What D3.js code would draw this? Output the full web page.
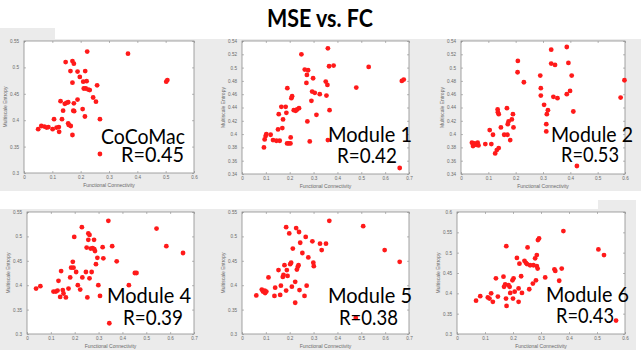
<!DOCTYPE html>
<html>
<head>
<meta charset="utf-8">
<script src="https://cdn.jsdelivr.net/npm/d3@7"></script>
<style>
  body { margin: 0; background: #fff; }
  svg { display: block; }
  .tick text { font-family: "Liberation Sans", Arial, sans-serif; font-size: 4.6px; fill: #6a6a6a; }
  .tick line { stroke: #8a8a8a; stroke-width: 0.6; }
</style>
</head>
<body>
<div id="chart"></div>
<script>
const width = 641
const height = 353

const panelNames = ["CoCoMac", "Module 1", "Module 2", "Module 4", "Module 5", "Module 6"]
const rLabels = ["R=0.45", "R=0.42", "R=0.53", "R=0.39", "R=0.38", "R=0.43"]

const xTicks = [
  [0, 0.1, 0.2, 0.3, 0.4, 0.5, 0.6],
  [0, 0.1, 0.2, 0.3, 0.4, 0.5, 0.6, 0.7],
  [0, 0.1, 0.2, 0.3, 0.4, 0.5, 0.6],
  [0, 0.1, 0.2, 0.3, 0.4, 0.5, 0.6, 0.7],
  [0, 0.1, 0.2, 0.3, 0.4, 0.5, 0.6, 0.7],
  [0, 0.1, 0.2, 0.3, 0.4, 0.5, 0.6]
]
const yTicks = [
  [0.3, 0.35, 0.4, 0.45, 0.5, 0.55],
  [0.34, 0.36, 0.38, 0.4, 0.42, 0.44, 0.46, 0.48, 0.5, 0.52, 0.54],
  [0.34, 0.36, 0.38, 0.4, 0.42, 0.44, 0.46, 0.48, 0.5, 0.52, 0.54],
  [0.3, 0.35, 0.4, 0.45, 0.5, 0.55],
  [0.3, 0.35, 0.4, 0.45, 0.5, 0.55],
  [0.3, 0.35, 0.4, 0.45, 0.5, 0.55, 0.6]
]

// functional connectivity (x) and multiscale entropy (y)
const cocomacFC = [0.05, 0.061, 0.072, 0.086, 0.08, 0.101, 0.106, 0.115, 0.123, 0.124, 0.129, 0.134, 0.138, 0.144, 0.15, 0.156, 0.147, 0.156, 0.158, 0.165, 0.164, 0.171, 0.176, 0.171, 0.171, 0.174, 0.177, 0.176, 0.189, 0.189, 0.197, 0.209, 0.207, 0.211, 0.215, 0.216, 0.221, 0.223, 0.218, 0.227, 0.232, 0.244, 0.254, 0.258, 0.268, 0.268, 0.367, 0.502, 0.506]
const cocomacMSE = [0.383, 0.389, 0.388, 0.387, 0.386, 0.383, 0.402, 0.386, 0.387, 0.378, 0.436, 0.402, 0.418, 0.431, 0.433, 0.434, 0.51, 0.394, 0.391, 0.389, 0.493, 0.512, 0.507, 0.471, 0.372, 0.418, 0.417, 0.432, 0.492, 0.439, 0.482, 0.473, 0.421, 0.46, 0.407, 0.493, 0.474, 0.53, 0.46, 0.458, 0.457, 0.443, 0.435, 0.466, 0.402, 0.336, 0.526, 0.473, 0.476]

const module1FC = [0.092, 0.095, 0.099, 0.102, 0.12, 0.13, 0.144, 0.151, 0.158, 0.154, 0.165, 0.169, 0.172, 0.183, 0.186, 0.189, 0.19, 0.196, 0.203, 0.204, 0.207, 0.21, 0.217, 0.225, 0.231, 0.239, 0.249, 0.263, 0.272, 0.277, 0.27, 0.274, 0.284, 0.291, 0.294, 0.298, 0.305, 0.312, 0.326, 0.351, 0.354, 0.358, 0.36, 0.365, 0.367, 0.36, 0.384, 0.479, 0.531, 0.67, 0.678, 0.661]
const module1MSE = [0.38, 0.392, 0.397, 0.4, 0.399, 0.391, 0.39, 0.407, 0.39, 0.43, 0.441, 0.409, 0.422, 0.441, 0.432, 0.386, 0.469, 0.386, 0.386, 0.395, 0.454, 0.457, 0.436, 0.435, 0.437, 0.439, 0.52, 0.497, 0.489, 0.496, 0.477, 0.419, 0.389, 0.45, 0.464, 0.484, 0.462, 0.429, 0.46, 0.479, 0.458, 0.474, 0.529, 0.502, 0.436, 0.391, 0.503, 0.47, 0.501, 0.48, 0.482, 0.349]

const module2FC = [0.04, 0.044, 0.05, 0.055, 0.061, 0.064, 0.089, 0.105, 0.111, 0.117, 0.125, 0.131, 0.138, 0.134, 0.138, 0.135, 0.146, 0.158, 0.168, 0.17, 0.171, 0.174, 0.18, 0.186, 0.192, 0.19, 0.208, 0.207, 0.23, 0.29, 0.292, 0.292, 0.304, 0.314, 0.318, 0.312, 0.312, 0.33, 0.33, 0.338, 0.344, 0.353, 0.387, 0.393, 0.387, 0.399, 0.405, 0.411, 0.424, 0.584, 0.598]
const module2MSE = [0.387, 0.382, 0.386, 0.384, 0.387, 0.383, 0.385, 0.406, 0.385, 0.399, 0.371, 0.376, 0.379, 0.437, 0.43, 0.433, 0.41, 0.399, 0.439, 0.399, 0.415, 0.419, 0.391, 0.422, 0.41, 0.43, 0.51, 0.493, 0.478, 0.488, 0.469, 0.458, 0.444, 0.43, 0.436, 0.415, 0.404, 0.527, 0.506, 0.456, 0.504, 0.454, 0.531, 0.507, 0.46, 0.465, 0.488, 0.434, 0.352, 0.455, 0.481]

const module4FC = [0.038, 0.056, 0.111, 0.121, 0.128, 0.132, 0.139, 0.143, 0.15, 0.153, 0.163, 0.174, 0.181, 0.185, 0.192, 0.195, 0.198, 0.206, 0.213, 0.223, 0.23, 0.232, 0.247, 0.25, 0.253, 0.257, 0.257, 0.262, 0.262, 0.267, 0.271, 0.275, 0.281, 0.282, 0.285, 0.289, 0.295, 0.299, 0.306, 0.317, 0.32, 0.341, 0.345, 0.357, 0.376, 0.427, 0.452, 0.459, 0.543, 0.584, 0.654]
const module4MSE = [0.393, 0.398, 0.387, 0.387, 0.389, 0.409, 0.376, 0.429, 0.39, 0.383, 0.375, 0.393, 0.416, 0.436, 0.448, 0.436, 0.499, 0.427, 0.4, 0.391, 0.519, 0.416, 0.427, 0.477, 0.375, 0.506, 0.493, 0.414, 0.503, 0.475, 0.427, 0.476, 0.493, 0.474, 0.47, 0.443, 0.456, 0.4, 0.378, 0.478, 0.455, 0.532, 0.322, 0.48, 0.449, 0.4, 0.425, 0.425, 0.516, 0.48, 0.466]

const module5FC = [0.06, 0.083, 0.088, 0.095, 0.097, 0.102, 0.111, 0.136, 0.139, 0.153, 0.16, 0.163, 0.171, 0.174, 0.178, 0.185, 0.185, 0.188, 0.191, 0.198, 0.202, 0.206, 0.209, 0.213, 0.223, 0.223, 0.227, 0.23, 0.234, 0.237, 0.239, 0.241, 0.244, 0.253, 0.262, 0.267, 0.271, 0.278, 0.295, 0.299, 0.301, 0.327, 0.334, 0.352, 0.366, 0.508, 0.477, 0.598, 0.661]
const module5MSE = [0.379, 0.391, 0.387, 0.389, 0.384, 0.387, 0.416, 0.378, 0.395, 0.431, 0.38, 0.399, 0.417, 0.421, 0.441, 0.519, 0.389, 0.431, 0.419, 0.506, 0.443, 0.446, 0.397, 0.475, 0.407, 0.364, 0.517, 0.432, 0.438, 0.441, 0.509, 0.39, 0.487, 0.466, 0.378, 0.499, 0.399, 0.457, 0.49, 0.446, 0.439, 0.485, 0.472, 0.485, 0.532, 0.521, 0.333, 0.472, 0.448]

const module6FC = [0.068, 0.083, 0.11, 0.116, 0.122, 0.128, 0.146, 0.139, 0.166, 0.168, 0.172, 0.175, 0.176, 0.177, 0.184, 0.188, 0.19, 0.198, 0.2, 0.202, 0.206, 0.214, 0.22, 0.22, 0.223, 0.229, 0.232, 0.241, 0.246, 0.25, 0.252, 0.258, 0.261, 0.271, 0.273, 0.279, 0.282, 0.285, 0.285, 0.288, 0.289, 0.293, 0.315, 0.348, 0.351, 0.365, 0.374, 0.38, 0.505, 0.525, 0.568]
const module6MSE = [0.382, 0.393, 0.39, 0.387, 0.4, 0.379, 0.392, 0.437, 0.441, 0.416, 0.422, 0.387, 0.516, 0.369, 0.42, 0.416, 0.401, 0.432, 0.387, 0.437, 0.404, 0.487, 0.412, 0.379, 0.473, 0.442, 0.401, 0.48, 0.475, 0.472, 0.513, 0.41, 0.469, 0.424, 0.469, 0.486, 0.432, 0.494, 0.467, 0.461, 0.531, 0.535, 0.439, 0.459, 0.455, 0.431, 0.461, 0.553, 0.508, 0.494, 0.333]

const fcSeries = [cocomacFC, module1FC, module2FC, module4FC, module5FC, module6FC]
const mseSeries = [cocomacMSE, module1MSE, module2MSE, module4MSE, module5MSE, module6MSE]

// plot boxes on the slide: [left, right, top, bottom]
const boxes = [
  [24, 194, 41, 173],
  [242, 409, 41, 174],
  [461, 625, 41, 174],
  [27, 194, 212, 334],
  [242, 409, 212, 334],
  [457, 625, 212, 334]
]
// right edge and baseline of the big labels: [nameRight, nameBase, rRight, rBase, nameWidth, rWidth]
const labelSpots = [
  [185, 144, 184, 162, 84, 63],
  [412, 142, 397, 163, 84, 60],
  [633, 142, 619, 162, 82, 58],
  [191, 303, 183, 325, 84, 60],
  [412, 303, 398, 325, 84, 59],
  [629, 302, 614, 323, 83, 58]
]

const svg = d3.select("#chart").append("svg")
  .attr("width", width)
  .attr("height", height)

// grey slide backgrounds of the pasted figures
const bg = svg.append("g").attr("fill", "#ebebeb")
bg.append("rect").attr("x", 0).attr("y", 39).attr("width", 641).attr("height", 152)
bg.append("rect").attr("x", 0).attr("y", 28).attr("width", 55).attr("height", 12)
bg.append("rect").attr("x", 0).attr("y", 209).attr("width", 636).attr("height", 141)
bg.append("rect").attr("x", 598).attr("y", 200).attr("width", 38).attr("height", 10)

svg.append("text")
  .attr("x", 320)
  .attr("y", 27)
  .attr("text-anchor", "middle")
  .attr("font-family", "Lato, 'Open Sans', sans-serif")
  .attr("font-weight", "bold")
  .attr("font-size", 25)
  .attr("textLength", 106)
  .attr("lengthAdjust", "spacingAndGlyphs")
  .text("MSE vs. FC")

const fmt = d => String(+d.toFixed(2))

function drawPanel(i) {
  const [x0, x1, y0, y1] = boxes[i]
  const xt = xTicks[i], yt = yTicks[i]
  const x = d3.scaleLinear().domain([xt[0], xt[xt.length - 1]]).range([x0, x1])
  const y = d3.scaleLinear().domain([yt[0], yt[yt.length - 1]]).range([y1, y0])
  const g = svg.append("g")

  g.append("rect")
    .attr("x", x0).attr("y", y0)
    .attr("width", x1 - x0).attr("height", y1 - y0)
    .attr("fill", "#fff")

  g.append("g").attr("transform", "translate(0," + y1 + ")")
    .call(d3.axisBottom(x).tickValues(xt).tickSize(-2).tickPadding(3).tickFormat(fmt))
  g.append("g").attr("transform", "translate(0," + y0 + ")")
    .call(d3.axisTop(x).tickValues(xt).tickSize(-2).tickFormat(""))
  g.append("g").attr("transform", "translate(" + x0 + ",0)")
    .call(d3.axisLeft(y).tickValues(yt).tickSize(-2).tickPadding(5).tickFormat(fmt))
  g.append("g").attr("transform", "translate(" + x1 + ",0)")
    .call(d3.axisRight(y).tickValues(yt).tickSize(-2).tickFormat(""))
  g.selectAll(".domain").remove()

  g.append("rect")
    .attr("x", x0).attr("y", y0)
    .attr("width", x1 - x0).attr("height", y1 - y0)
    .attr("fill", "none")
    .attr("stroke", "#8c8c8c")
    .attr("stroke-width", 0.8)

  g.append("text")
    .attr("x", (x0 + x1) / 2)
    .attr("y", y1 + 14)
    .attr("text-anchor", "middle")
    .attr("font-family", "'Liberation Sans', Arial, sans-serif")
    .attr("font-size", 5)
    .attr("fill", "#6a6a6a")
    .text("Functional Connectivity")

  g.append("text")
    .attr("transform", "translate(" + (x0 - 17) + "," + ((y0 + y1) / 2) + ") rotate(-90)")
    .attr("text-anchor", "middle")
    .attr("font-family", "'Liberation Sans', Arial, sans-serif")
    .attr("font-size", 5)
    .attr("fill", "#6a6a6a")
    .text("Multiscale Entropy")

  const pts = fcSeries[i].map((fc, k) => ({ fc: fc, mse: mseSeries[i][k] }))
  g.append("g")
    .selectAll("circle")
    .data(pts)
    .enter().append("circle")
    .attr("cx", d => x(d.fc))
    .attr("cy", d => y(d.mse))
    .attr("r", 2.4)
    .attr("fill", "#ff1a1a")

  const s = labelSpots[i]
  g.append("text")
    .attr("x", s[0] - s[4]).attr("y", s[1])
    .attr("font-family", "Lato, 'Open Sans', sans-serif")
    .attr("font-size", 21)
    .attr("fill", "#000")
    .attr("textLength", s[4])
    .attr("lengthAdjust", "spacingAndGlyphs")
    .text(panelNames[i])
  g.append("text")
    .attr("x", s[2] - s[5]).attr("y", s[3])
    .attr("font-family", "Lato, 'Open Sans', sans-serif")
    .attr("font-size", 21)
    .attr("fill", "#000")
    .attr("textLength", s[5])
    .attr("lengthAdjust", "spacingAndGlyphs")
    .text(rLabels[i])
}

panelNames.forEach((name, i) => drawPanel(i))
</script>
</body>
</html>
